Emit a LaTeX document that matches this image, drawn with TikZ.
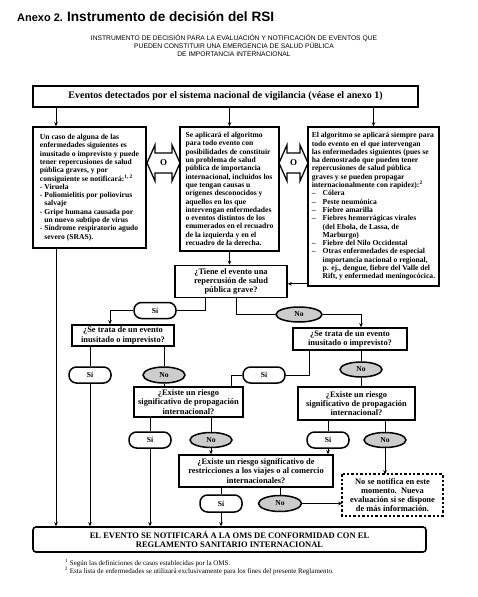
\documentclass[tikz,border=0pt]{standalone}
\usepackage{fontspec}
\setmainfont{Liberation Serif}
\newfontfamily\arialf{Liberation Sans}
\usetikzlibrary{arrows.meta,calc,shapes.geometric}
\begin{document}
\begin{tikzpicture}[x=1pt,y=-1pt,
  box/.style={draw, line width=1.6pt, rectangle, inner sep=2pt, align=left,
    font=\bfseries\fontsize{7.6}{8.3}\selectfont},
  qbox/.style={draw, line width=1.6pt, rectangle, inner sep=1pt, align=center,
    font=\bfseries\fontsize{8.4}{9.2}\selectfont},
  sipill/.style={draw, line width=1.5pt, rounded corners=7.5pt, minimum width=42pt,
    minimum height=16pt, inner sep=0pt, fill=white, font=\bfseries\fontsize{7.6}{8}\selectfont},
  noell/.style={draw, ellipse, line width=1.5pt, fill=gray!40, minimum width=44pt,
    minimum height=15pt, inner sep=0pt, font=\bfseries\fontsize{7.6}{8}\selectfont},
  conn/.style={line width=0.9pt},
  arr/.style={conn, -{Stealth[length=4pt,width=3.6pt]}},
  dblarr/.style={draw, line width=1.3pt, fill=white, line join=miter},
]
\useasboundingbox (0,0) rectangle (478,597);

% titles
\node[anchor=base west, inner sep=0pt, font=\arialf\bfseries] (title) at (17,21)
  {{\fontsize{11}{12}\selectfont Anexo 2. }{\fontsize{13.6}{15}\selectfont Instrumento de decisión del RSI}};
\node[align=center, inner sep=0pt, font=\arialf\fontsize{6.7}{7.7}\selectfont] (sub) at (234,45.5)
  {INSTRUMENTO DE DECISIÓN PARA LA EVALUACIÓN Y NOTIFICACIÓN DE EVENTOS QUE\\
   PUEDEN CONSTITUIR UNA EMERGENCIA DE SALUD PÚBLICA\\
   DE IMPORTANCIA INTERNACIONAL};

% top box
\node[draw, line width=1.6pt, minimum width=385pt, minimum height=21pt, inner sep=0pt,
  font=\bfseries\fontsize{10}{11}\selectfont] (top) at (225.5,96.5)
  {Eventos detectados por el sistema nacional de vigilancia (véase el anexo 1)};

% three boxes
\node[box, minimum width=113pt, minimum height=121pt] (left) at (89.5,187.5)
  {Un caso de alguna de las\\
   enfermedades siguientes es\\
   inusitado o imprevisto y puede\\
   tener repercusiones de salud\\
   pública graves, y por\\
   consiguiente se notificará:\textsuperscript{1, 2}\\
   -~Viruela\\
   -~Poliomielitis por poliovirus\\
   \phantom{-~}salvaje\\
   -~Gripe humana causada por\\
   \phantom{-~}un nuevo subtipo de virus\\
   -~Síndrome respiratorio agudo\\
   \phantom{-~}severo (SRAS).};

\node[box, minimum width=99pt, minimum height=124pt] (mid) at (229.5,189)
  {Se aplicará el algoritmo\\
   para todo evento con\\
   posibilidades de constituir\\
   un problema de salud\\
   pública de importancia\\
   internacional, incluidos los\\
   que tengan causas u\\
   orígenes desconocidos y\\
   aquellos en los que\\
   intervengan enfermedades\\
   o eventos distintos de los\\
   enumerados en el recuadro\\
   de la izquierda y en el\\
   recuadro de la derecha.};

\node[box, minimum width=131pt, minimum height=159pt] (right) at (373.5,206.5)
  {El algoritmo se aplicará siempre para\\
   todo evento en el que intervengan\\
   las enfermedades siguientes (pues se\\
   ha demostrado que pueden tener\\
   repercusiones de salud pública\\
   graves y se pueden propagar\\
   internacionalmente con rapidez):\textsuperscript{2}\\
   –\hspace{7pt}Cólera\\
   –\hspace{7pt}Peste neumónica\\
   –\hspace{7pt}Fiebre amarilla\\
   –\hspace{7pt}Fiebres hemorrágicas virales\\
   \phantom{–}\hspace{7pt}(del Ebola, de Lassa, de\\
   \phantom{–}\hspace{7pt}Marburgo)\\
   –\hspace{7pt}Fiebre del Nilo Occidental\\
   –\hspace{7pt}Otras enfermedades de especial\\
   \phantom{–}\hspace{7pt}importancia nacional o regional,\\
   \phantom{–}\hspace{7pt}p. ej., dengue, fiebre del Valle del\\
   \phantom{–}\hspace{7pt}Rift, y enfermedad meningocócica.};

% double arrows "O"
\draw[dblarr] (147,163) -- (155,145) -- (155,153) -- (172,153) -- (172,145) -- (180,163)
  -- (172,181) -- (172,173) -- (155,173) -- (155,181) -- cycle;
\node[font=\bfseries\fontsize{9}{10}\selectfont, inner sep=0pt] (o1) at (163.5,163) {O};
\draw[dblarr] (279,163) -- (287,145) -- (287,153) -- (300,153) -- (300,145) -- (308,163)
  -- (300,181) -- (300,173) -- (287,173) -- (287,181) -- cycle;
\node[font=\bfseries\fontsize{9}{10}\selectfont, inner sep=0pt] (o2) at (293.5,163) {O};

% questions
\node[qbox, minimum width=112pt, minimum height=32pt] (q1) at (231,281.5)
  {¿Tiene el evento una\\ repercusión de salud\\ pública grave?};
\node[qbox, minimum width=102pt, minimum height=21pt] (q2l) at (123,335.5)
  {¿Se trata de un evento\\ inusitado o imprevisto?};
\node[qbox, minimum width=114pt, minimum height=22pt] (q2r) at (350,339)
  {¿Se trata de un evento\\ inusitado o imprevisto?};
\node[qbox, minimum width=109pt, minimum height=30pt] (q3l) at (188.5,402)
  {¿Existe un riesgo\\ significativo de propagación\\ internacional?};
\node[qbox, minimum width=117pt, minimum height=33pt] (q3r) at (356.5,403.5)
  {¿Existe un riesgo\\ significativo de propagación\\ internacional?};
\node[qbox, minimum width=154pt, minimum height=32pt] (q4) at (256,471)
  {¿Existe un riesgo significativo de\\ restricciones a los viajes o al comercio\\ internacionales?};
\node[qbox, draw=none, minimum width=99pt, minimum height=40pt] (dot) at (392.5,495)
  {No se notifica en este\\ momento.\ \ Nueva\\ evaluación si se dispone\\ de más información.};
\draw[line width=2.4pt, dash pattern=on 2.4pt off 2pt] (dot.north west) rectangle (dot.south east);

% final
\node[draw, line width=1.6pt, rounded corners=3pt, minimum width=393pt, minimum height=25pt,
  inner sep=0pt, align=center, font=\bfseries\fontsize{8.5}{9.6}\selectfont] (final) at (229.5,539.5)
  {EL EVENTO SE NOTIFICARÁ A LA OMS DE CONFORMIDAD CON EL\\ REGLAMENTO SANITARIO INTERNACIONAL};

% pills
\node[sipill] (si1) at (155,310.5) {Sí};
\node[noell, minimum width=46pt] (no1) at (299,314.5) {No};
\node[sipill] (si2) at (90,375) {Sí};
\node[noell, minimum height=16pt, minimum width=42pt] (no2) at (164,375) {No};
\node[sipill] (si3) at (264,375) {Sí};
\node[noell, minimum width=42pt] (no3) at (361,369.5) {No};
\node[sipill] (si4) at (150,440) {Sí};
\node[noell, minimum width=42pt] (no4) at (211,440) {No};
\node[sipill] (si5) at (328,440) {Sí};
\node[noell, minimum width=42pt] (no5) at (385,440) {No};
\node[sipill, minimum height=17pt] (si6) at (221,503.5) {Sí};
\node[noell, minimum width=43pt, minimum height=16pt] (no6) at (280,503.5) {No};

% footnotes
\node[anchor=north west, align=left, inner sep=0pt, font=\fontsize{7}{8}\selectfont] (fn) at (65,559)
  {\textsuperscript{1} Según las definiciones de casos establecidas por la OMS.\\
   \textsuperscript{2} Esta lista de enfermedades se utilizará exclusivamente para los fines del presente Reglamento.};

% column coordinates
\coordinate (xa) at (205,0);
\coordinate (xb) at (236,0);
\coordinate (xc) at (110,0);
\coordinate (xd) at (361,0);
\coordinate (xe) at (309,0);
\coordinate (xf) at (231,0);
\coordinate (xg) at (56,0);
\coordinate (rq) at ([yshift=3pt]right.south west);

% connectors
\draw[arr] (top.south -| xg) -- (left.north -| xg);
\draw[arr] (top.south -| mid.north) -- (mid.north);
\draw[arr] (top.south -| right.north) -- (right.north);
\draw[arr] (left.south -| xg) -- (final.north -| xg);
\draw[arr] (mid.south) -- (mid.south |- q1.north);
\draw[arr] (rq) -- (rq -| q1.east);
\draw[conn] (q1.south -| xa) |- (si1.east);
\draw[arr] (si1.west) -| (q2l.north -| xc);
\draw[conn] (q1.south -| xb) |- (no1.west);
\draw[arr] (no1.east) -| (q2r.north -| xd);
\draw[conn] (q2l.south -| si2.north) -- (si2.north);
\draw[arr] (si2.south) -- (si2.south |- final.north);
\draw[conn] (q2l.south -| no2.north) -- (no2.north);
\draw[conn] (no2.south) -- (no2.south |- q3l.north);
\draw[conn] (q2r.south -| xe) |- (si3.east);
\draw[conn] (si3.west) -| (q3l.north -| xf);
\draw[conn] (q2r.south -| no3.north) -- (no3.north);
\draw[conn] (no3.south) -- (no3.south |- q3r.north);
\draw[conn] (q3l.south -| si4.north) -- (si4.north);
\draw[arr] (si4.south) -- (si4.south |- final.north);
\draw[conn] (q3l.south -| no4.north) -- (no4.north);
\draw[arr] (no4.south) -- (no4.south |- q4.north);
\draw[conn] (q3r.south -| si5.north) -- (si5.north);
\draw[arr] (si5.south) -- (si5.south |- q4.north);
\draw[conn] (q3r.south -| no5.north) -- (no5.north);
\draw[arr] (no5.south) -- (no5.south |- dot.north);
\draw[conn] (q4.south -| si6.north) -- (si6.north);
\draw[arr] (si6.south) -- (si6.south |- final.north);
\draw[conn] (q4.south -| no6.north) -- (no6.north);
\draw[arr] (no6.east) -- (no6.east -| dot.west);
\end{tikzpicture}
\end{document}
